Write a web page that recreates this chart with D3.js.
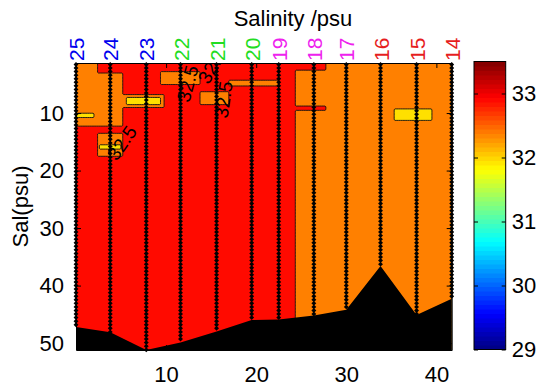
<!DOCTYPE html>
<html>
<head>
<meta charset="utf-8">
<script src="https://cdn.jsdelivr.net/npm/d3@7"></script>
<style>
  html, body { margin: 0; padding: 0; background: #fff; }
  svg { display: block; font-family: "Liberation Sans", Arial, sans-serif; }
</style>
</head>
<body>
<svg id="chart" width="543" height="387"></svg>
<script>
// stations along the section, distance in km
const stations = ['25', '24', '23', '22', '21', '20', '19', '18', '17', '16', '15', '14'];
const stationDist = [0, 3.8, 7.8, 11.6, 15.6, 19.5, 22.5, 26.4, 30.0, 33.8, 37.8, 41.7];
const stationColors = ['#0000ee', '#0000ee', '#0000ee', '#22dd22', '#22dd22', '#22dd22',
  '#ee22ee', '#ee22ee', '#ee22ee', '#e61e1e', '#e61e1e', '#e61e1e'];
// sea floor depth under each station (m)
const bottomDepth = [47.2, 48.1, 51.2, 49.9, 48.0, 46.0, 45.9, 45.2, 44.2, 36.6, 45.1, 42.3];

// salinity field as patches [dist0, dist1, depth0, depth1, psu], later ones on top
const salPatches = [
  [0, 24.4, 1.3, 51.2, 33.25],
  [24.4, 41.7, 1.3, 51.2, 32.75],
  [24.4, 27.7, 1.3, 2.6, 33.25],
  [24.4, 27.7, 8.7, 9.6, 33.25],
  [0, 2.3, 1.3, 3.0, 32.75],
  [0, 5.2, 3.0, 12.2, 32.75],
  [0, 1.9, 10.0, 10.9, 32.25],
  [5.2, 9.7, 6.9, 9.0, 32.75],
  [5.5, 9.4, 7.4, 8.5, 32.25],
  [2.3, 5.2, 13.5, 17.4, 32.75],
  [2.5, 4.9, 15.6, 16.3, 32.25],
  [9.3, 13.7, 2.7, 5.1, 32.75],
  [13.8, 17.0, 6.3, 8.6, 32.75],
  [17.0, 22.6, 4.4, 5.4, 32.75],
  [35.3, 39.5, 9.3, 11.2, 32.25]
];
const levels = [32, 32.5, 33];
const levelColors = ['#ffe000', '#ff8000', '#ff0a00'];
// contour labels [dist, depth, text, angle]
const contourLabels = [
  [12.4, 4.9, '32.5', -75],
  [16.4, 7.7, '32.5', -82],
  [5.1, 15.2, '32.5', -55],
  [15.1, 1.8, '32.5', -60]
];
const xTicks = [10, 20, 30, 40];
const yTicks = [10, 20, 30, 40, 50];
const cbTicks = [29, 30, 31, 32, 33];

const svg = d3.select('#chart');
const plot = { left: 76, right: 451.7, top: 63, bottom: 350 };
const distRange = [0, 41.7];
const depthRange = [1.3, 51.2];

const x = d3.scaleLinear().domain(distRange).range([plot.left, plot.right]);
const y = d3.scaleLinear().domain(depthRange).range([plot.top, plot.bottom]);

svg.append('defs').append('clipPath').attr('id', 'plotclip')
  .append('rect')
  .attr('x', plot.left).attr('y', plot.top)
  .attr('width', plot.right - plot.left).attr('height', plot.bottom - plot.top);

// grid the patches and contour them
const nx = 209, nz = 200;
const dx = (distRange[1] - distRange[0]) / nx;
const dz = (depthRange[1] - depthRange[0]) / nz;
const grid = new Array(nx * nz).fill(0);
for (let j = 0; j < nz; j++) {
  const z = depthRange[0] + (j + 0.5) * dz;
  for (let i = 0; i < nx; i++) {
    const d = distRange[0] + (i + 0.5) * dx;
    let v = 0;
    salPatches.forEach(p => {
      if (d >= p[0] && d < p[1] && z >= p[2] && z < p[3]) v = p[4];
    });
    grid[j * nx + i] = v;
  }
}
const contours = d3.contours().size([nx, nz]).thresholds(levels)(grid);
const proj = d3.geoTransform({
  point: function (gx, gy) {
    this.stream.point(x(distRange[0] + gx * dx), y(depthRange[0] + gy * dz));
  }
});
const path = d3.geoPath(proj);

const field = svg.append('g').attr('clip-path', 'url(#plotclip)');
field.selectAll('path.band')
  .data(contours)
  .join('path')
  .attr('class', 'band')
  .attr('d', path)
  .attr('fill', (d, i) => levelColors[i])
  .attr('stroke', '#111')
  .attr('stroke-width', 0.9);

// sea floor
const floor = d3.area()
  .x((d, i) => x(stationDist[i]))
  .y0(plot.bottom)
  .y1(d => y(d));
field.append('path')
  .datum(bottomDepth)
  .attr('d', floor)
  .attr('fill', '#000');

// sample points along each station
const sampleStep = 0.62;
const dots = svg.append('g');
stationDist.forEach((sd, i) => {
  const depths = d3.range(depthRange[0] + 0.25, bottomDepth[i], sampleStep);
  dots.selectAll(null)
    .data(depths)
    .join('path')
    .attr('transform', d => `translate(${x(sd)},${y(d)}) rotate(45)`)
    .attr('d', d3.symbol().type(d3.symbolSquare).size(12))
    .attr('fill', '#000');
});

// contour labels
field.selectAll('text.clabel')
  .data(contourLabels)
  .join('text')
  .attr('class', 'clabel')
  .attr('transform', d => `translate(${x(d[0])},${y(d[1])}) rotate(${d[3]})`)
  .attr('text-anchor', 'middle')
  .attr('dominant-baseline', 'central')
  .attr('font-size', 19)
  .attr('fill', '#000')
  .text(d => d[2]);

// axes, ticks inward on all sides
const axisFont = g => g.selectAll('text').attr('font-size', 22).attr('fill', '#000')
  .attr('font-family', '"Liberation Sans", Arial, sans-serif');
const axisLine = g => g.selectAll('path, line').attr('stroke', '#000');

svg.append('g')
  .attr('transform', `translate(0,${plot.bottom})`)
  .call(d3.axisBottom(x).tickValues(xTicks).tickSizeInner(-5).tickSizeOuter(0).tickPadding(16))
  .call(axisFont).call(axisLine);
svg.append('g')
  .attr('transform', `translate(0,${plot.top})`)
  .call(d3.axisTop(x).tickValues(xTicks).tickSizeInner(-5).tickSizeOuter(0).tickFormat(''))
  .call(axisLine);
svg.append('g')
  .attr('transform', `translate(${plot.left},0)`)
  .call(d3.axisLeft(y).tickValues(yTicks).tickSizeInner(-5).tickSizeOuter(0).tickPadding(12))
  .call(axisFont).call(axisLine);
svg.append('g')
  .attr('transform', `translate(${plot.right},0)`)
  .call(d3.axisRight(y).tickValues(yTicks).tickSizeInner(-5).tickSizeOuter(0).tickFormat(''))
  .call(axisLine);

// station labels on top
svg.append('g').selectAll('text')
  .data(stations)
  .join('text')
  .attr('transform', (d, i) => `translate(${x(stationDist[i]) + 8},61) rotate(-90)`)
  .attr('font-size', 21)
  .attr('fill', (d, i) => stationColors[i])
  .text(d => d);

// titles
svg.append('text')
  .attr('x', 293).attr('y', 26)
  .attr('text-anchor', 'middle')
  .attr('font-size', 22)
  .text('Salinity /psu');
svg.append('text')
  .attr('transform', `translate(28,${(plot.top + plot.bottom) / 2}) rotate(-90)`)
  .attr('text-anchor', 'middle')
  .attr('font-size', 22)
  .text('Sal(psu)');

// colorbar with jet colormap
const cb = { left: 474, right: 505.7, top: 61.5, bottom: 349.5 };
const cbScale = d3.scaleLinear().domain([29, 33.5]).range([cb.bottom, cb.top]);
const jet = t => {
  const c = v => Math.round(255 * Math.max(0, Math.min(1, v)));
  return `rgb(${c(1.5 - Math.abs(4 * t - 3))},${c(1.5 - Math.abs(4 * t - 2))},${c(1.5 - Math.abs(4 * t - 1))})`;
};
const nColors = 64;
const cbSteps = d3.range(nColors);
const cbStep = (33.5 - 29) / nColors;
svg.append('g').selectAll('rect')
  .data(cbSteps)
  .join('rect')
  .attr('x', cb.left)
  .attr('width', cb.right - cb.left)
  .attr('y', k => cbScale(29 + (k + 1) * cbStep))
  .attr('height', k => cbScale(29 + k * cbStep) - cbScale(29 + (k + 1) * cbStep) + 0.5)
  .attr('fill', k => jet((k + 0.5) / nColors));
svg.append('rect')
  .attr('x', cb.left).attr('y', cb.top)
  .attr('width', cb.right - cb.left).attr('height', cb.bottom - cb.top)
  .attr('fill', 'none').attr('stroke', '#000');
svg.append('g')
  .attr('transform', `translate(${cb.right},0)`)
  .call(d3.axisRight(cbScale).tickValues(cbTicks).tickSizeInner(-4).tickSizeOuter(0).tickPadding(6)
    .tickFormat(d3.format('d')))
  .call(axisFont).call(axisLine)
  .call(g => g.select('.domain').remove());
svg.append('g')
  .attr('transform', `translate(${cb.left},0)`)
  .call(d3.axisLeft(cbScale).tickValues(cbTicks).tickSizeInner(-4).tickSizeOuter(0).tickFormat(''))
  .call(axisLine)
  .call(g => g.select('.domain').remove());
</script>
</body>
</html>
